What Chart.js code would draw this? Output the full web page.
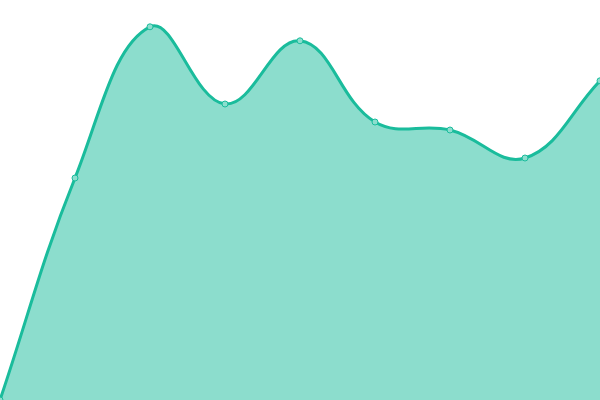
<!DOCTYPE html>
<html>
<head>
<meta charset="utf-8">
<script src="https://cdn.jsdelivr.net/npm/chart.js@4"></script>
<style>
  html, body { margin: 0; padding: 0; background: #fff; }
  #wrap { width: 600px; height: 400px; }
</style>
</head>
<body>
<div id="wrap"><canvas id="chart"></canvas></div>
<script>
// Data
const labels = ['1', '2', '3', '4', '5', '6', '7', '8', '9'];
const values = [0, 55.5, 93.3, 74, 89.8, 69.5, 67.5, 60.5, 79.8];
const yMin = 0;
const yMax = 100;

const ctx = document.getElementById('chart').getContext('2d');

new Chart(ctx, {
    type: 'line',
    data: {
        labels: labels,
        datasets: [{
            data: values,
            borderColor: '#1abc9c',
            backgroundColor: 'rgba(26, 188, 156, 0.5)',
            borderWidth: 3,
            fill: true,
            tension: 0.4,
            clip: false,
            pointRadius: 3,
            pointBorderWidth: 1,
            pointBackgroundColor: 'rgba(140, 222, 206, 1)',
            pointBorderColor: '#1abc9c'
        }]
    },
    options: {
        responsive: true,
        maintainAspectRatio: false,
        animation: false,
        layout: { padding: 0, autoPadding: false },
        plugins: {
            legend: { display: false },
            tooltip: { enabled: false }
        },
        scales: {
            x: { display: false },
            y: { display: false, min: yMin, max: yMax }
        }
    }
});
</script>
</body>
</html>
